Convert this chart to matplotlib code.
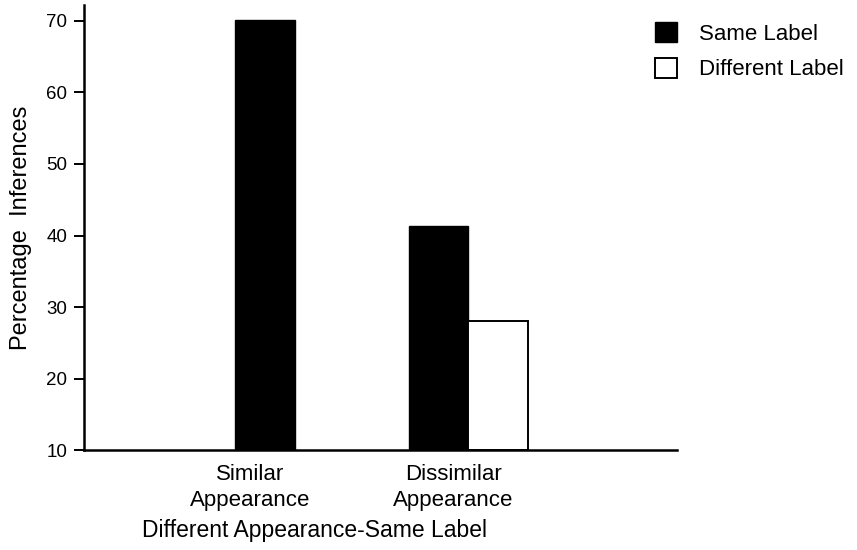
import numpy as np
import matplotlib.pyplot as plt
from matplotlib.patches import Patch

plt.rcParams.update({"font.family": ["Liberation Sans", "DejaVu Sans"], "font.size": 11})

categories = ["Similar\nAppearance", "Dissimilar\nAppearance"]
same_label = [70.1, 41.4]
diff_label = [np.nan, 28.1]
series_names = ["Same Label", "Different Label"]
xlabel = "Different Appearance-Same Label"
ylabel = "Percentage  Inferences"
yticks = [10, 20, 30, 40, 50, 60, 70]

fig = plt.figure(figsize=(8.57, 5.5), dpi=100)
ax = fig.add_axes([0.0980, 0.1810, 0.6920, 0.8100])

w = 0.294
x = np.arange(len(categories))
for i in x:
    if np.isnan(diff_label[i]):
        ax.bar(i, same_label[i] - 10, w, bottom=10, color="black", edgecolor="black")
    else:
        ax.bar(i - w / 2, same_label[i] - 10, w, bottom=10, color="black", edgecolor="black")
        ax.bar(i + w / 2, diff_label[i] - 10, w, bottom=10, color="white",
               edgecolor="black", lw=1.4)

ax.set_xlim(-0.89, 2.025)
ax.set_ylim(10, 72.2)
ax.set_yticks(yticks)
# labels in the original sit a little left of the bar centres (no tick marks drawn)
ax.set_xticks(x - 0.075)
ax.set_xticklabels(categories, fontsize=16, linespacing=1.3)
ax.tick_params(axis="x", length=0, pad=10)
ax.tick_params(axis="y", length=7, width=1.4, labelsize=13.5, pad=5)
for s in ["top", "right"]:
    ax.spines[s].set_visible(False)
for s in ["left", "bottom"]:
    ax.spines[s].set_linewidth(1.8)
ax.set_ylabel(ylabel, fontsize=17, labelpad=10)

fig.text(315 / 857, 1 - 530 / 550, xlabel, ha="center", va="center", fontsize=16.5)

handles = [Patch(facecolor="black", edgecolor="black"),
           Patch(facecolor="white", edgecolor="black", lw=1.4)]
fig.legend(handles, series_names, loc="upper left", bbox_to_anchor=(655 / 857, 1 - 22 / 550),
           frameon=False, fontsize=16, handlelength=1.0, handleheight=1.0,
           handletextpad=1.0, labelspacing=0.6, borderpad=0, borderaxespad=0)

fig.savefig("out.png")
